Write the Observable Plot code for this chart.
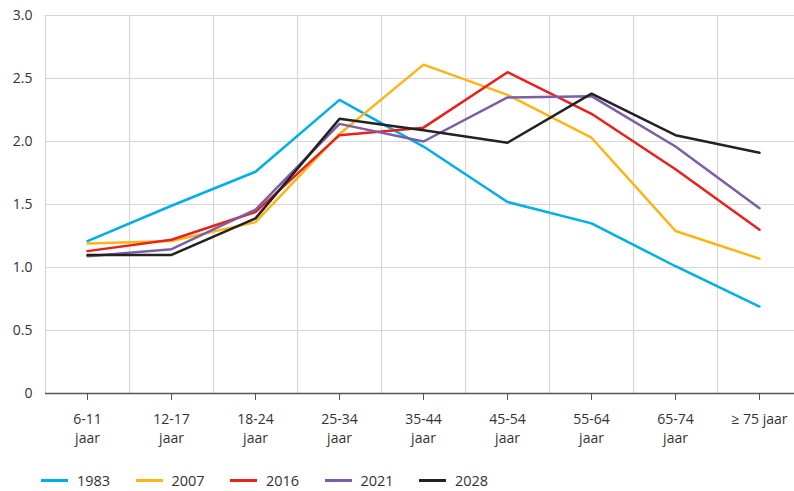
<!DOCTYPE html>
<html>
<head>
<meta charset="utf-8">
<script src="https://cdn.jsdelivr.net/npm/d3@7"></script>
<script src="https://cdn.jsdelivr.net/npm/@observablehq/plot@0.6"></script>
<style>
  html, body { margin: 0; padding: 0; background: #fff; width: 794px; height: 491px; overflow: hidden; }
  #chart { font-family: "Open Sans", sans-serif; }
  .legend { display: flex; align-items: center; height: 37px; padding-left: 41px; font-family: "Open Sans", sans-serif; font-size: 14.5px; color: #333; }
  .legend .item { display: flex; align-items: center; width: 94.5px; }
  .legend .sw { width: 27px; height: 3px; margin-right: 9px; }
</style>
</head>
<body>
<div id="chart"></div>
<script>
const ageGroups = ["6-11\njaar", "12-17\njaar", "18-24\njaar", "25-34\njaar", "35-44\njaar", "45-54\njaar", "55-64\njaar", "65-74\njaar", "≥ 75 jaar"];
const years = ["1983", "2007", "2016", "2021", "2028"];
const colors = ["#00aeea", "#fbb517", "#e8221b", "#7b5ea6", "#222222"];
const values1983 = [1.21, 1.49, 1.76, 2.33, 1.96, 1.52, 1.35, 1.01, 0.69];
const values2007 = [1.19, 1.21, 1.36, 2.06, 2.61, 2.37, 2.03, 1.29, 1.07];
const values2016 = [1.13, 1.22, 1.44, 2.05, 2.11, 2.55, 2.22, 1.78, 1.30];
const values2021 = [1.09, 1.145, 1.46, 2.14, 2.00, 2.35, 2.36, 1.96, 1.47];
const values2028 = [1.10, 1.10, 1.39, 2.18, 2.09, 1.99, 2.38, 2.05, 1.91];
const yTicks = [0, 0.5, 1, 1.5, 2, 2.5, 3];

const seriesValues = [values1983, values2007, values2016, values2021, values2028];
const rows = [];
years.forEach((yr, s) => seriesValues[s].forEach((v, i) => rows.push({year: yr, idx: i, value: v})));

const idx = d3.range(ageGroups.length);
const boundaries = d3.range(ageGroups.length).map(i => i - 0.5);

const chart = Plot.plot({
  width: 794,
  height: 462,
  marginTop: 15,
  marginBottom: 69,
  marginLeft: 45,
  marginRight: 0,
  style: {fontFamily: "Open Sans, sans-serif", fontSize: "14px", color: "#333", overflow: "visible"},
  x: {domain: [-0.5, ageGroups.length - 0.5], range: [45, 801]},
  y: {domain: [0, 3]},
  color: {domain: years, range: colors},
  marks: [
    Plot.gridY(yTicks.slice(1), {stroke: "#d6d6d6", strokeOpacity: 1, strokeWidth: 1.2}),
    Plot.gridX(boundaries, {stroke: "#d6d6d6", strokeOpacity: 1, strokeWidth: 1.2}),
    Plot.axisY(yTicks, {tickSize: 0, tickPadding: 13, tickFormat: d => d === 0 ? "0" : d.toFixed(1), fontSize: 14, fill: "#333", label: null}),
    Plot.axisX(idx, {tickSize: 7, tickPadding: 10, tickFormat: i => ageGroups[i], fontSize: 14, fill: "#333", stroke: "#555", lineHeight: 1.35, label: null}),
    Plot.ruleY([0], {stroke: "#555", strokeWidth: 1.5}),
    Plot.line(rows, {x: "idx", y: "value", stroke: "year", z: "year", strokeWidth: 2.5, strokeLinejoin: "miter"})
  ]
});
document.getElementById("chart").appendChild(chart);

const legend = document.createElement("div");
legend.className = "legend";
years.forEach((yr, i) => {
  const item = document.createElement("div");
  item.className = "item";
  const sw = document.createElement("span");
  sw.className = "sw";
  sw.style.background = colors[i];
  const t = document.createElement("span");
  t.textContent = yr;
  item.appendChild(sw);
  item.appendChild(t);
  legend.appendChild(item);
});
document.getElementById("chart").appendChild(legend);
</script>
</body>
</html>
